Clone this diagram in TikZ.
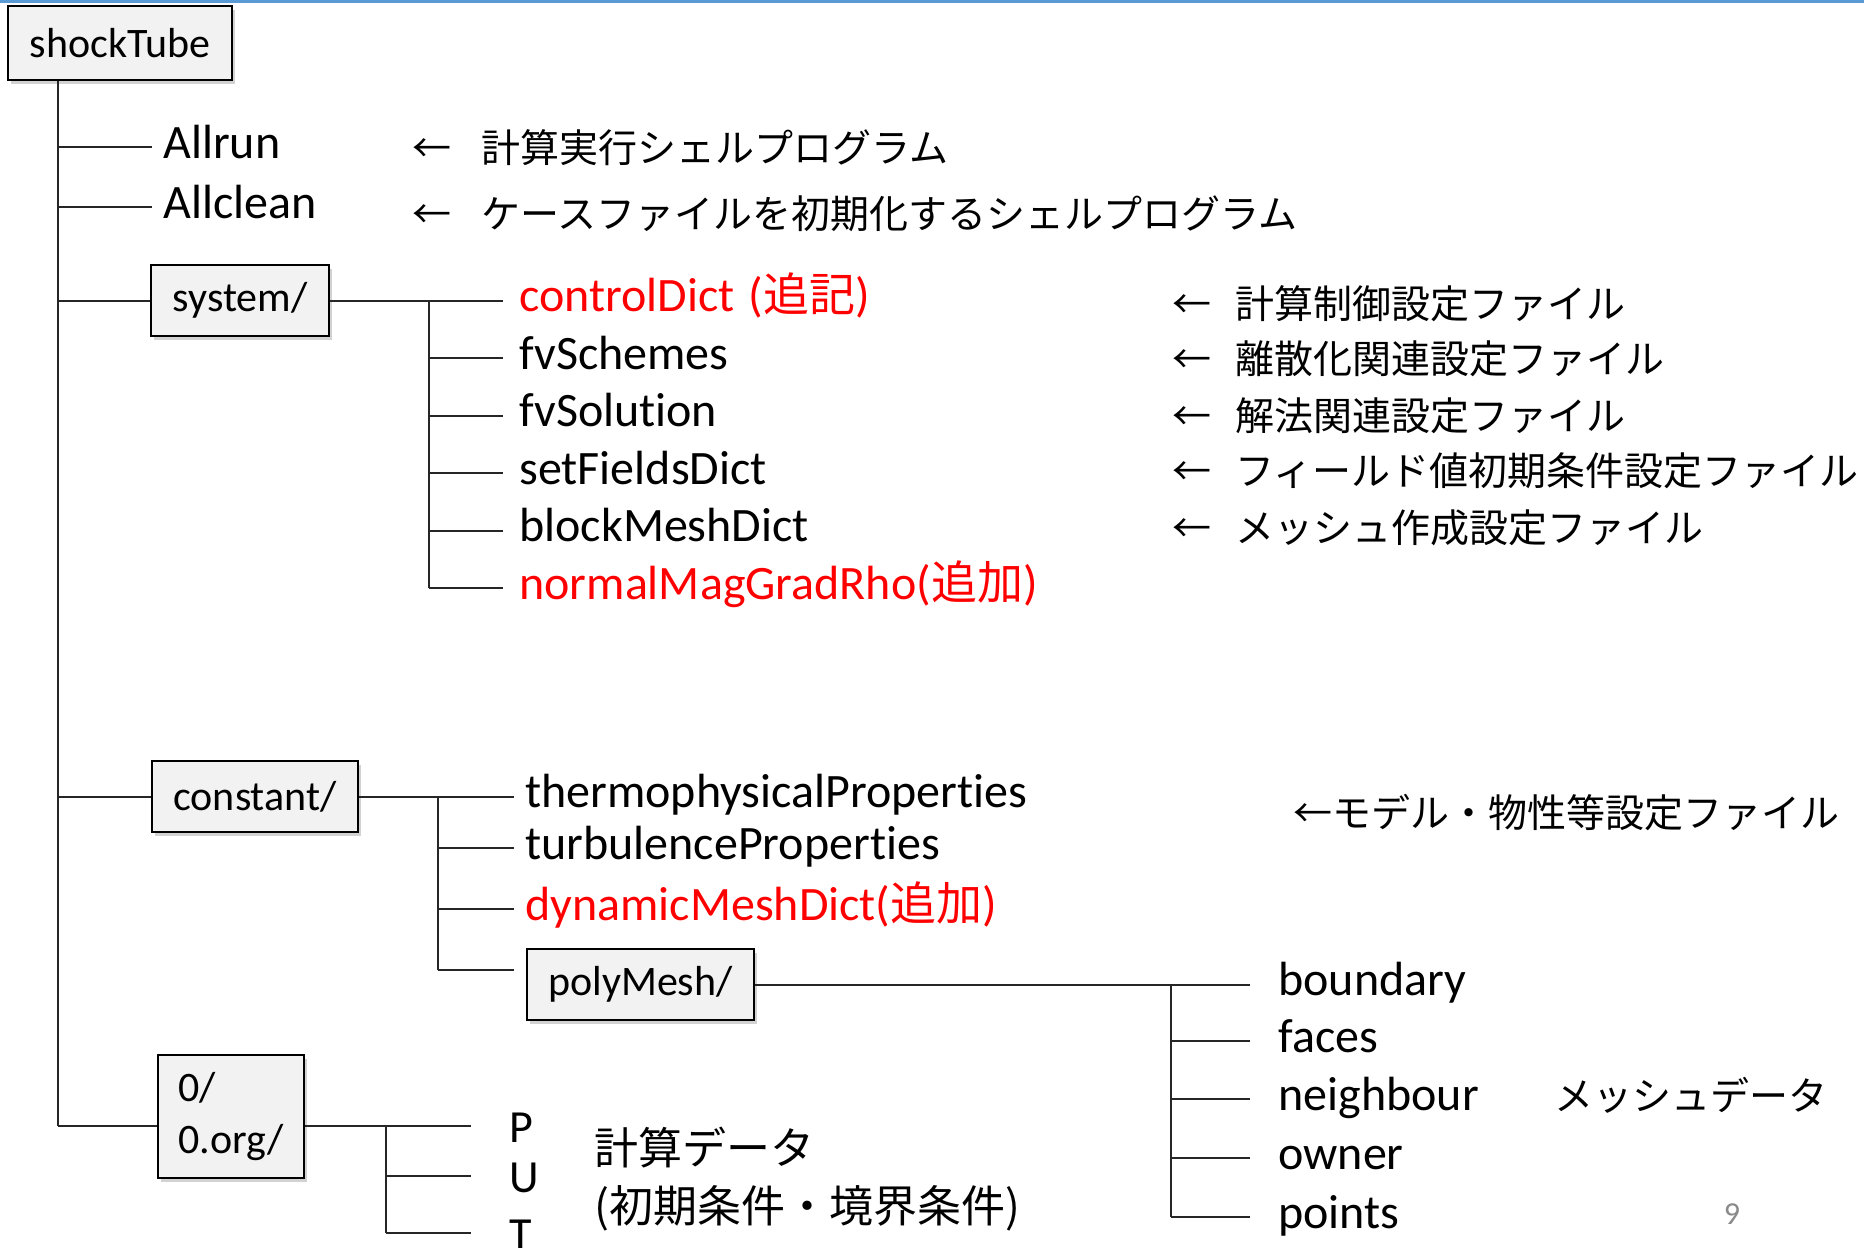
\documentclass[tikz,border=0pt]{standalone}
\usepackage{fontspec}
\setmainfont{Carlito}[Ligatures={NoCommon}]
\newfontfamily\jp{Noto Sans CJK JP}
\usetikzlibrary{shadows,calc}
\definecolor{myred}{RGB}{255,0,0}
\definecolor{topblue}{RGB}{91,155,213}
\definecolor{boxfill}{RGB}{242,242,242}
\definecolor{pgnum}{RGB}{137,137,137}
\begin{document}
\begin{tikzpicture}[x=0.5pt,y=-0.5pt,
  dirbox/.style={draw=black, line width=0.9pt, fill=boxfill, font=\fontsize{21}{26}\selectfont, inner sep=0pt,
    drop shadow={shadow xshift=1.5pt, shadow yshift=-2pt, opacity=0.25, fill=black!70}},
  conn/.style={draw=black!85, line width=1pt},
  leaf/.style={anchor=west, font=\fontsize{24}{28}\selectfont, inner ysep=0pt, inner xsep=#1, text height=11pt, text depth=0pt},
  leaf/.default=8pt,
  putleaf/.style={anchor=west, font=\fontsize{23}{28}\selectfont, inner ysep=0pt, inner xsep=19pt, text height=16pt, text depth=0pt},
  note/.style={anchor=base west, inner sep=0pt, font=\jp\fontsize{19.5}{23}\selectfont},
  bignote/.style={anchor=base west, inner sep=0pt, font=\jp\fontsize{22}{26}\selectfont},
]
\useasboundingbox (0,0) rectangle (1864,1248);
\clip (0,0) rectangle (1864,1248);
\fill[topblue] (0,0) rectangle (1864,3);

% directory boxes
\node[dirbox, minimum width=112pt, minimum height=37pt] (st) at (120,43) {shockTube};
\node[dirbox, minimum width=89pt, minimum height=35.5pt] (sys) at (240,300.5) {system/};
\node[dirbox, minimum width=103pt, minimum height=35.5pt] (con) at (255,796.5) {constant/};
\node[dirbox, minimum width=113.5pt, minimum height=35.5pt] (pm) at (640.5,984.5) {polyMesh/};
\node[dirbox, minimum width=73pt, minimum height=61.5pt, align=left] (zero) at (231,1116.5) {0/\\0.org/};

% top level files
\node[leaf=5.5pt] (allrun) at (152,147) {Allrun};
\node[leaf=5.5pt] (allclean) at (152,207) {Allclean};

% system children
\node[leaf=8pt, text=myred] (cd) at (503,300.5) {controlDict\hspace{7pt}({\jp\fontsize{23}{28}\selectfont 追記})};
\node[leaf=8pt] (fvsch) at (503,358) {fvSchemes};
\node[leaf=8pt] (fvsol) at (503,415.5) {fvSolution};
\node[leaf=8pt] (sfd) at (503,473) {setFieldsDict};
\node[leaf=8pt] (bmd) at (503,530.5) {blockMeshDict};
\node[leaf=8pt, text=myred] (nm) at (503,588) {normalMagGradRho({\jp\fontsize{23}{28}\selectfont 追加})};

% constant children
\node[leaf=5.5pt] (thermo) at (514,796.5) {thermophysicalProperties};
\node[leaf=5.5pt] (turb) at (514,848) {turbulenceProperties};
\node[leaf=5.5pt, text=myred] (dyn) at (514,909) {dynamicMeshDict({\jp\fontsize{23}{28}\selectfont 追加})};

% polyMesh children
\node[leaf=14pt] (boundary) at (1250,984.5) {boundary};
\node[leaf=14pt] (faces) at (1250,1041) {faces};
\node[leaf=14pt] (neighbour) at (1250,1099) {neighbour};
\node[leaf=14pt] (owner) at (1250,1158) {owner};
\node[leaf=14pt] (points) at (1250,1217) {points};

% 0 children
\node[putleaf] (P) at (471,1126) {P};
\node[putleaf] (U) at (471,1176) {U};
\node[putleaf] (T) at (471,1233) {T};

% connectors: main trunk
\coordinate (tx) at (58,0);
\draw[conn] (st.south -| tx) -- (P.west -| tx);
\draw[conn] (allrun.west -| tx) -- (allrun.west);
\draw[conn] (allclean.west -| tx) -- (allclean.west);
\draw[conn] (sys.west -| tx) -- (sys.west);
\draw[conn] (con.west -| tx) -- (con.west);
\draw[conn] (P.west -| tx) -- (P.west -| zero.west);

% system subtree
\coordinate (sx) at (429,0);
\draw[conn] (sys.east) -- (cd.west);
\draw[conn] (cd.west -| sx) -- (nm.west -| sx);
\foreach \n in {fvsch,fvsol,sfd,bmd,nm}
  \draw[conn] (\n.west -| sx) -- (\n.west);

% constant subtree
\coordinate (cx) at (438,0);
\coordinate (pmj) at ($(pm.west)+(-12,-14.5)$);
\draw[conn] (con.east) -- (thermo.west);
\draw[conn] (thermo.west -| cx) -- (pmj -| cx);
\draw[conn] (turb.west -| cx) -- (turb.west);
\draw[conn] (dyn.west -| cx) -- (dyn.west);
\draw[conn] (pmj -| cx) -- (pmj);

% polyMesh subtree
\coordinate (px) at (1171,0);
\draw[conn] (pm.east) -- (boundary.west);
\draw[conn] (boundary.west -| px) -- (points.west -| px);
\foreach \n in {faces,neighbour,owner,points}
  \draw[conn] (\n.west -| px) -- (\n.west);

% 0 subtree
\coordinate (zx) at (386,0);
\draw[conn] (P.west -| zero.east) -- (P.west);
\draw[conn] (P.west -| zx) -- (T.west -| zx);
\draw[conn] (U.west -| zx) -- (U.west);
\draw[conn] (T.west -| zx) -- (T.west);

% notes
\node[note] (n1) at (412,162) {←\hspace{15pt}計算実行シェルプログラム};
\node[note] (n2) at (412,228) {←\hspace{15pt}ケースファイルを初期化するシェルプログラム};
\node[note] (d1) at (1172,318) {←\hspace{12pt}計算制御設定ファイル};
\node[note] (d2) at (1172,373) {←\hspace{12pt}離散化関連設定ファイル};
\node[note] (d3) at (1172,430) {←\hspace{12pt}解法関連設定ファイル};
\node[note] (d4) at (1172,485) {←\hspace{12pt}フィールド値初期条件設定ファイル};
\node[note] (d5) at (1172,542) {←\hspace{12pt}メッシュ作成設定ファイル};
\node[note] (dm) at (1293,827) {←モデル・物性等設定ファイル};
\node[note] (md) at (1554,1110) {メッシュデータ};
\node[bignote] (cdata) at (594,1164) {計算データ};
\node[bignote] (cdata2) at (594,1222) {(初期条件・境界条件)};
\node[font=\fontsize{16}{19}\selectfont, text=pgnum, inner sep=0pt] (pg) at (1732,1214) {9};
\end{tikzpicture}
\end{document}
